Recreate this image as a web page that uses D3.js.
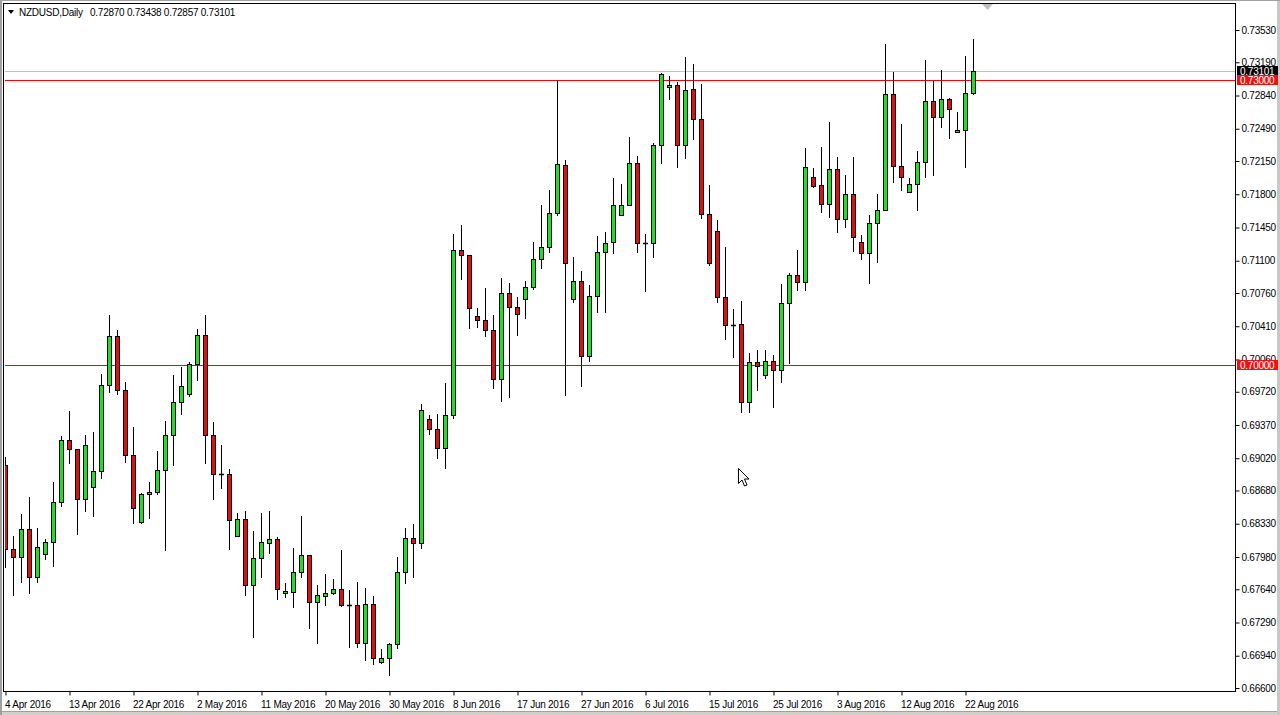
<!DOCTYPE html>
<html><head><meta charset="utf-8">
<script src="https://cdn.jsdelivr.net/npm/d3@7/dist/d3.min.js"></script>
<style>
html,body{margin:0;padding:0;background:#fff;}
svg{display:block;}
text{font-family:"Liberation Sans",Arial,sans-serif;font-size:10px;letter-spacing:-0.25px;}
</style></head>
<body>
<svg id="c" width="1280" height="715"></svg>
<script>
const symbolTitle = "NZDUSD,Daily";
const ohlcTitle = "0.72870 0.73438 0.72857 0.73101";

const open = [0.68949,0.68064,0.67980,0.68275,0.67769,0.68011,0.68138,0.68559,0.69212,0.69117,
0.68591,0.68717,0.68885,0.69791,0.70307,0.69739,0.69054,0.68348,0.68643,0.68664,
0.68896,0.69265,0.69612,0.69696,0.70012,0.70318,0.69265,0.68854,0.68854,0.68201,
0.68380,0.67685,0.67969,0.68127,0.68169,0.67601,0.67611,0.67822,0.68001,0.67506,
0.67569,0.67601,0.67643,0.67474,0.67474,0.67074,0.67485,0.66874,0.66916,0.67063,
0.67822,0.68180,0.68127,0.69433,0.69328,0.69128,0.69475,0.71213,0.71160,0.70518,
0.70476,0.70370,0.69854,0.70760,0.70613,0.70697,0.70823,0.71118,0.71245,0.71603,
0.72108,0.70697,0.70887,0.70097,0.70729,0.71192,0.71297,0.71582,0.71687,0.72129,
0.71287,0.71287,0.72319,0.72930,0.72951,0.72319,0.72909,0.72593,0.71592,0.71413,
0.70718,0.70423,0.70434,0.69612,0.70033,0.69897,0.70044,0.69949,0.70655,0.70950,
0.70876,0.71982,0.71898,0.71697,0.72066,0.71540,0.71803,0.71297,0.71181,0.71497,
0.71634,0.72856,0.72098,0.71824,0.71908,0.72140,0.72782,0.72614,0.72803,0.72456,
0.72477,0.72870];
const high = [0.69033,0.68201,0.68433,0.68612,0.68285,0.68169,0.68770,0.69254,0.69517,0.69117,
0.69265,0.69296,0.69907,0.70528,0.70370,0.69823,0.69349,0.68654,0.68770,0.69096,
0.69412,0.69897,0.69981,0.70033,0.70381,0.70528,0.69402,0.69159,0.68907,0.68443,
0.68464,0.68254,0.68443,0.68464,0.68190,0.67706,0.68074,0.68412,0.68001,0.67685,
0.67801,0.67748,0.68053,0.67632,0.67716,0.67653,0.67569,0.67011,0.67074,0.67980,
0.68285,0.68327,0.69591,0.69475,0.69486,0.69812,0.71382,0.71476,0.71160,0.70602,
0.70813,0.70528,0.70918,0.70865,0.70718,0.70887,0.71297,0.71687,0.71845,0.73003,
0.72161,0.71139,0.70992,0.70844,0.71360,0.71403,0.71971,0.71908,0.72403,0.72203,
0.71382,0.72340,0.73077,0.73046,0.72982,0.73246,0.73172,0.72961,0.71898,0.71529,
0.71245,0.70592,0.70676,0.70128,0.70160,0.70160,0.70107,0.70855,0.70971,0.71213,
0.72287,0.72077,0.72298,0.72561,0.72192,0.72003,0.72192,0.71371,0.71582,0.71803,
0.73383,0.73088,0.72540,0.71971,0.72256,0.73214,0.72993,0.73109,0.72814,0.72666,
0.73256,0.73438];
const low = [0.67874,0.67579,0.67716,0.67601,0.67716,0.67959,0.67885,0.68517,0.68970,0.68222,
0.68464,0.68412,0.68812,0.69717,0.69696,0.68980,0.68338,0.68338,0.68390,0.68643,
0.68053,0.68949,0.69486,0.69675,0.69844,0.68970,0.68591,0.68706,0.68064,0.68201,
0.67579,0.67137,0.67769,0.68022,0.67537,0.67558,0.67453,0.67769,0.67232,0.67074,
0.67474,0.67590,0.67464,0.67032,0.67032,0.66895,0.66853,0.66863,0.66737,0.67021,
0.67706,0.67769,0.68075,0.69275,0.69022,0.68917,0.69444,0.70908,0.70392,0.70402,
0.70307,0.69760,0.69623,0.69665,0.70318,0.70497,0.70802,0.71023,0.71192,0.71580,
0.69686,0.70665,0.69781,0.70044,0.70560,0.70560,0.71181,0.71582,0.71687,0.71192,
0.70781,0.71139,0.72129,0.72803,0.72087,0.72182,0.72382,0.71550,0.71060,0.70665,
0.70276,0.70086,0.69507,0.69507,0.69739,0.69865,0.69560,0.69823,0.70023,0.70792,
0.70792,0.71877,0.71613,0.71561,0.71403,0.71455,0.71202,0.71118,0.70865,0.71087,
0.71634,0.71929,0.71845,0.71824,0.71634,0.71982,0.72003,0.72508,0.72393,0.72456,
0.72087,0.72857];
const close = [0.68064,0.67980,0.68275,0.67769,0.68085,0.68138,0.68559,0.69212,0.69117,0.68591,
0.69159,0.68885,0.69791,0.70307,0.69739,0.69054,0.68496,0.68643,0.68664,0.68896,
0.69265,0.69612,0.69781,0.70012,0.70318,0.69265,0.68854,0.68850,0.68369,0.68380,
0.67685,0.67969,0.68138,0.68169,0.67643,0.67622,0.67822,0.68001,0.67506,0.67579,
0.67601,0.67643,0.67474,0.67470,0.67074,0.67485,0.66916,0.66916,0.67063,0.67822,
0.68180,0.68127,0.69528,0.69328,0.69128,0.69475,0.71213,0.71160,0.70602,0.70476,
0.70370,0.69854,0.70760,0.70613,0.70539,0.70823,0.71118,0.71245,0.71603,0.72119,
0.71076,0.70887,0.70097,0.70729,0.71192,0.71287,0.71687,0.71687,0.72129,0.71287,
0.71282,0.72319,0.73067,0.72951,0.72319,0.72898,0.72593,0.71592,0.71076,0.70718,
0.70423,0.70420,0.69612,0.70033,0.69991,0.70044,0.69949,0.70655,0.70950,0.70876,
0.72087,0.71887,0.71697,0.72066,0.71540,0.71803,0.71350,0.71181,0.71497,0.71634,
0.72856,0.72098,0.71982,0.71908,0.72140,0.72782,0.72614,0.72803,0.72698,0.72477,
0.72870,0.73101];

const xTickLabels = ["4 Apr 2016","13 Apr 2016","22 Apr 2016","2 May 2016","11 May 2016","20 May 2016",
"30 May 2016","8 Jun 2016","17 Jun 2016","27 Jun 2016","6 Jul 2016","15 Jul 2016","25 Jul 2016",
"3 Aug 2016","12 Aug 2016","22 Aug 2016"];
const xTickBars = [0,8,16,24,32,40,48,56,64,72,80,88,96,104,112,120];

const yTickValues = [0.73530,0.73190,0.72840,0.72490,0.72150,0.71800,0.71450,0.71100,0.70760,0.70410,
0.70060,0.69720,0.69370,0.69020,0.68680,0.68330,0.67980,0.67640,0.67290,0.66940,0.66600];

const hLines = [0.73000, 0.70000];
const bidPrice = 0.73101;

// ---- layout
const svg = d3.select("#c");
const L = 4, R = 1235, T = 4, B = 692;
const x = d3.scaleLinear().domain([0, open.length - 1]).range([5, 5 + 8 * (open.length - 1)]);
const y = d3.scaleLinear().domain([0.666, 0.7353]).range([688, 30]);

svg.append("rect").attr("x",0).attr("y",0).attr("width",1280).attr("height",715).attr("fill","#fff");

// outer window border
svg.append("rect").attr("x",0).attr("y",712).attr("width",1280).attr("height",3).attr("fill","#d4d0c8");
svg.append("line").attr("x1",0).attr("x2",1280).attr("y1",711.5).attr("y2",711.5).attr("stroke","#a0a0a0");
svg.append("rect").attr("x",0).attr("y",0).attr("width",2).attr("height",715).attr("fill","#a0a0a0");
svg.append("rect").attr("x",1277).attr("y",0).attr("width",3).attr("height",715).attr("fill","#c8c8c8");
svg.append("rect").attr("x",0).attr("y",0).attr("width",1280).attr("height",1).attr("fill","#a0a0a0");

const clip = svg.append("defs").append("clipPath").attr("id","plot");
clip.append("rect").attr("x",L+1).attr("y",T+1).attr("width",R-L-1).attr("height",B-T-1);

const plot = svg.append("g").attr("clip-path","url(#plot)");

// bid line (gray)
plot.append("line").attr("x1",L).attr("x2",R)
  .attr("y1",Math.round(y(bidPrice))+0.5).attr("y2",Math.round(y(bidPrice))+0.5)
  .attr("stroke","#c0c0c0");

// horizontal red lines
plot.selectAll("line.h").data(hLines).join("line").attr("class","h")
  .attr("x1",L).attr("x2",R)
  .attr("y1",d=>Math.round(y(d))+0.5).attr("y2",d=>Math.round(y(d))+0.5)
  .attr("stroke","#ff0000").attr("stroke-width",1);

const idx = d3.range(open.length);
const cx = i => Math.round(x(i));

// wicks
plot.selectAll("line.w").data(idx).join("line").attr("class","w")
  .attr("x1",i=>cx(i)+0.5).attr("x2",i=>cx(i)+0.5)
  .attr("y1",i=>Math.round(y(high[i]))).attr("y2",i=>Math.round(y(low[i]))+1)
  .attr("stroke","#000").attr("stroke-width",1);

// bodies
idx.forEach(i=>{
  const yo = Math.round(y(open[i])), yc = Math.round(y(close[i]));
  const top = Math.min(yo,yc), bot = Math.max(yo,yc);
  if (bot - top < 1) {
    plot.append("line").attr("x1",cx(i)-2).attr("x2",cx(i)+3)
      .attr("y1",top+0.5).attr("y2",top+0.5).attr("stroke","#000").attr("stroke-width",1.5);
  } else {
    plot.append("rect").attr("x",cx(i)-1.5).attr("y",top+0.5)
      .attr("width",4).attr("height",bot-top)
      .attr("fill", close[i] > open[i] ? "#22dd22" : "#dd1111")
      .attr("stroke","#000").attr("stroke-width",1);
  }
});

// frame
svg.append("rect").attr("x",L-0.5).attr("y",T-0.5).attr("width",R-L+1).attr("height",B-T)
  .attr("fill","none").attr("stroke","#000");

// y axis (right)
const yAxis = d3.axisRight(y).tickValues(yTickValues).tickSize(4).tickPadding(2)
  .tickFormat(d=>d.toFixed(5));
const gy = svg.append("g").attr("transform",`translate(${R+0.5},0)`).call(yAxis);
gy.select(".domain").remove();
gy.selectAll(".tick line").attr("stroke","#000");
gy.attr("font-size",null).attr("font-family",null);
gy.selectAll(".tick text").style("fill","#000");

// x axis (bottom)
const xAxis = d3.axisBottom(x).tickValues(xTickBars).tickSize(4).tickPadding(3)
  .tickFormat((d,k)=>xTickLabels[k]);
const gx = svg.append("g").attr("transform",`translate(0.5,${B-0.5})`).call(xAxis);
gx.select(".domain").remove();
gx.selectAll(".tick line").attr("stroke","#000");
gx.attr("font-size",null).attr("font-family",null);
gx.selectAll(".tick text").attr("text-anchor","start").attr("x",-1).attr("dy","0.95em").style("fill","#000");

// price boxes on right axis
const boxes = [
  {v: bidPrice, bg: "#000", fg: "#fff"},
  {v: hLines[0], bg: "#ee1111", fg: "#fff"},
  {v: hLines[1], bg: "#ee1111", fg: "#fff"}
];
boxes.forEach(b=>{
  const yy = Math.round(y(b.v));
  svg.append("rect").attr("x",R+2).attr("y",yy-5).attr("width",41).attr("height",10).attr("fill",b.bg);
  svg.append("text").attr("x",R+5).attr("y",yy+4).style("fill",b.fg).text(b.v.toFixed(5));
});

// header
svg.append("path").attr("d","M8,10 L14,10 L11,14 Z").attr("fill","#000");
svg.append("text").attr("x",19).attr("y",16).style("fill","#000").text(symbolTitle);
svg.append("text").attr("x",90).attr("y",16).style("fill","#000").text(ohlcTitle);

// chart shift marker
svg.append("path").attr("d","M982,4 L993,4 L987.5,10 Z").attr("fill","#c0c0c0");

// mouse cursor
svg.append("path").attr("transform","translate(738.5,468.5)")
  .attr("d","M0,0 L0,15 L3.5,11.5 L6,17.5 L8.5,16.5 L6,10.5 L10.5,10.5 Z")
  .attr("fill","#fff").attr("stroke","#000").attr("stroke-width",1);
</script>
</body></html>
